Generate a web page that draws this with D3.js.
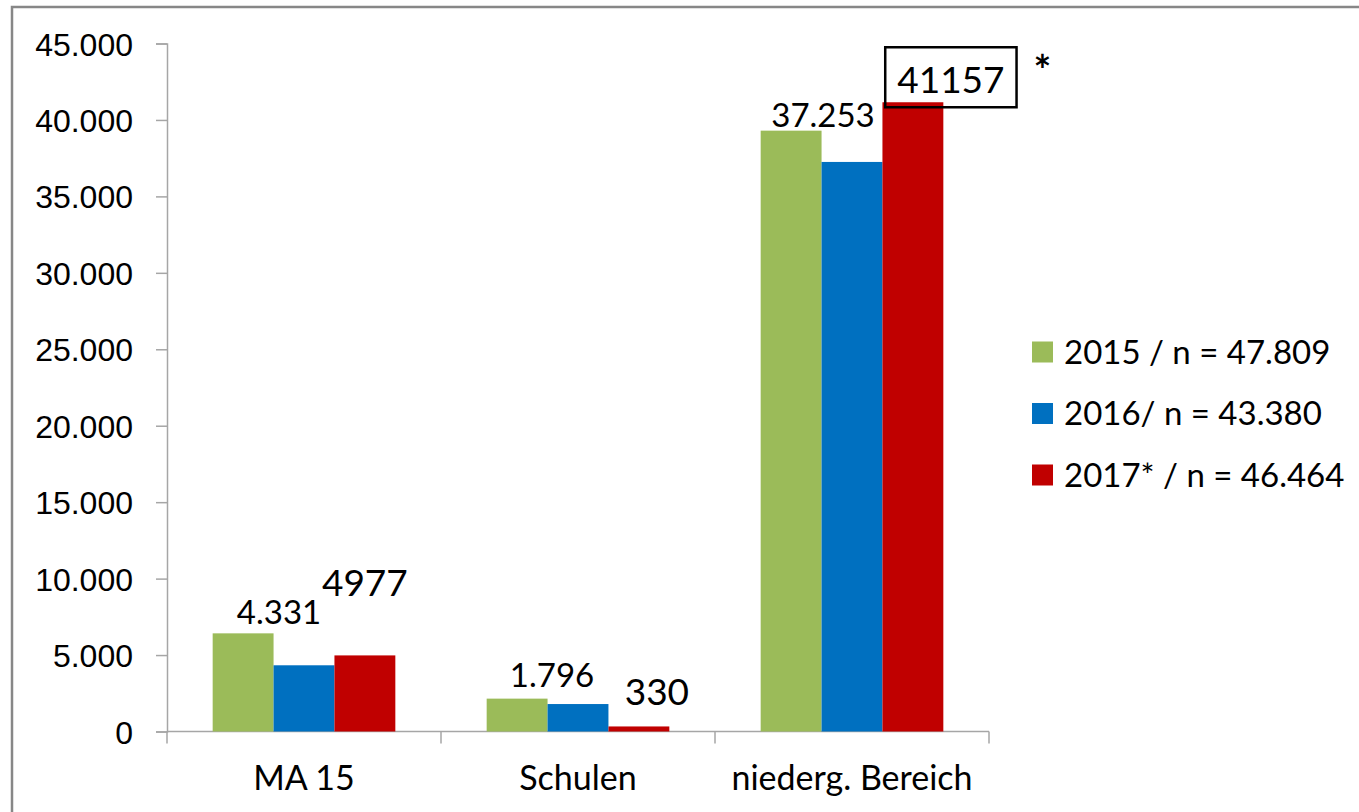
<!DOCTYPE html>
<html>
<head>
<meta charset="utf-8">
<script src="https://cdn.jsdelivr.net/npm/d3@7"></script>
<style>
  body { margin: 0; background: #fff; }
  svg { display: block; font-family: Lato, "Open Sans", sans-serif; }
</style>
</head>
<body>
<svg id="chart"></svg>
<script>
// categories and series
const categories = ["MA 15", "Schulen", "niederg. Bereich"];
const seriesNames = ["2015 / n = 47.809", "2016/ n = 43.380", "2017* / n = 46.464"];
const colors = ["#9bbb59", "#0070c0", "#c00000"];

// bar values
const values2015 = [6420, 2150, 39300];
const values2016 = [4331, 1796, 37253];
const values2017 = [4977, 330, 41157];

// data label texts
const labels2016 = ["4.331", "1.796", "37.253"];
const labels2017 = ["4977", "330", "41157"];

const yTicks = [0, 5000, 10000, 15000, 20000, 25000, 30000, 35000, 40000, 45000];

const svgWidth = 1359,
  svgHeight = 812;

const svg = d3.select("#chart").attr("width", svgWidth).attr("height", svgHeight);

// outer chart border (runs off the right and bottom edge)
svg.append("rect")
  .attr("x", 12).attr("y", 7)
  .attr("width", svgWidth + 20).attr("height", svgHeight + 20)
  .attr("fill", "none").attr("stroke", "#878787").attr("stroke-width", 2.5);

const x0 = d3.scaleBand().domain(categories).range([167, 989]).paddingInner(1 / 3).paddingOuter(1 / 6);
const x1 = d3.scaleBand().domain(d3.range(3)).range([0, x0.bandwidth()]);
const y = d3.scaleLinear().domain([0, 45000]).range([731.5, 43.5]);

const fmt = (d) => d3.format(",")(d).replace(/,/g, ".");

// y axis
const yAxis = svg.append("g")
  .attr("transform", "translate(167,0)")
  .call(d3.axisLeft(y).tickValues(yTicks).tickSize(11).tickPadding(23).tickFormat(fmt));
yAxis.select(".domain").attr("stroke", "#a6a6a6").attr("stroke-width", 1.5);
yAxis.selectAll(".tick line").attr("stroke", "#a6a6a6").attr("stroke-width", 1.5);
yAxis.selectAll(".tick text").attr("font-size", 32).attr("fill", "#000").attr("dy", "0.36em");

// x axis with ticks between categories
const step = x0.step();
const bounds = [0, 1, 2, 3].map((i) => 167 + i * step);
svg.append("line")
  .attr("x1", 167).attr("x2", bounds[3])
  .attr("y1", y(0)).attr("y2", y(0))
  .attr("stroke", "#a6a6a6").attr("stroke-width", 1.5);
svg.selectAll(".xtick").data(bounds).enter().append("line")
  .attr("x1", (d) => d).attr("x2", (d) => d)
  .attr("y1", y(0)).attr("y2", y(0) + 12)
  .attr("stroke", "#a6a6a6").attr("stroke-width", 1.5);
svg.selectAll(".xlabel").data(categories).enter().append("text")
  .attr("x", (d) => x0(d) + x0.bandwidth() / 2)
  .attr("y", 790)
  .attr("text-anchor", "middle")
  .attr("font-size", 34)
  .text((d) => d);

// bars
const series = [values2015, values2016, values2017];
series.forEach((vals, s) => {
  svg.selectAll(".bar" + s).data(vals).enter().append("rect")
    .attr("x", (d, i) => x0(categories[i]) + x1(s))
    .attr("y", (d) => y(d))
    .attr("width", x1.bandwidth())
    .attr("height", (d) => y(0) - y(d))
    .attr("fill", colors[s]);
});

// 2016 labels (placed by hand in the original)
const lab16Dx = [-25, -26, -29];
const lab16Dy = [-41, -17, -35];
svg.selectAll(".lab16").data(labels2016).enter().append("text")
  .attr("x", (d, i) => x0(categories[i]) + x1(1) + x1.bandwidth() / 2 + lab16Dx[i])
  .attr("y", (d, i) => y(values2016[i]) + lab16Dy[i])
  .attr("text-anchor", "middle")
  .attr("font-size", 33)
  .text((d) => d);

// 2017 labels, larger
const lab17Dx = [0, 18, 38];
const lab17Dy = [-59, -21, -9];
const lab17 = svg.selectAll(".lab17").data(labels2017).enter().append("text")
  .attr("x", (d, i) => x0(categories[i]) + x1(2) + x1.bandwidth() / 2 + lab17Dx[i])
  .attr("y", (d, i) => y(values2017[i]) + lab17Dy[i])
  .attr("text-anchor", "middle")
  .attr("font-size", 37)
  .text((d) => d);

// box around the last label
const last = lab17.filter((d, i) => i === 2).node().getBBox();
svg.append("rect")
  .attr("x", last.x - 12).attr("y", last.y - 9)
  .attr("width", last.width + 24).attr("height", last.height + 15)
  .attr("fill", "none").attr("stroke", "#000").attr("stroke-width", 2.5);
svg.append("text")
  .attr("x", last.x + last.width + 38).attr("y", last.y + 30)
  .attr("text-anchor", "middle")
  .attr("font-size", 42)
  .attr("font-weight", "bold")
  .text("*");

// legend
const legend = svg.selectAll(".legend").data(seriesNames).enter().append("g")
  .attr("transform", (d, i) => "translate(1032," + (352 + i * 61.5) + ")");
legend.append("rect")
  .attr("x", 0).attr("y", -10.5).attr("width", 21).attr("height", 21)
  .attr("fill", (d, i) => colors[i]);
legend.append("text")
  .attr("x", 32).attr("y", 0).attr("dy", "0.36em")
  .attr("font-size", 33)
  .text((d) => d);
</script>
</body>
</html>
